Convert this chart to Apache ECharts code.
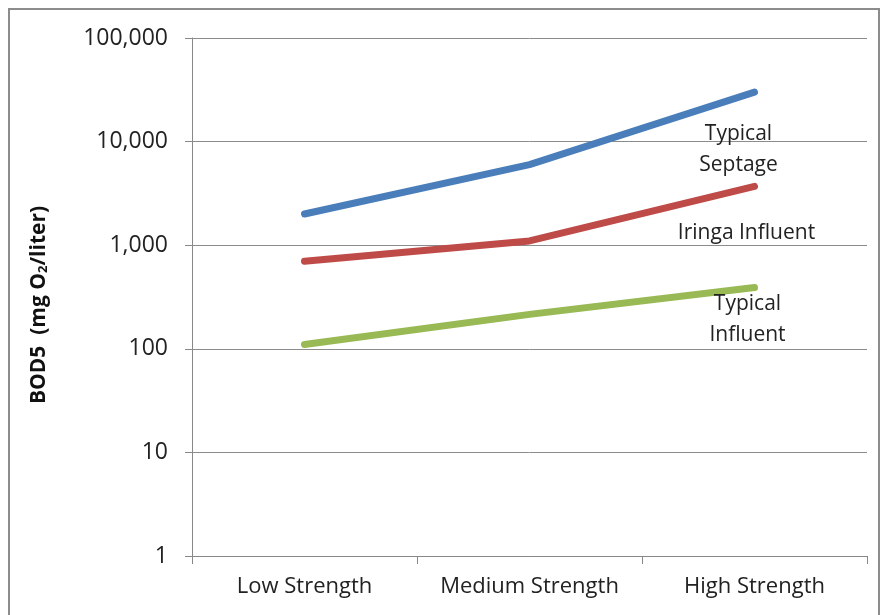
<!DOCTYPE html>
<html>
<head>
<meta charset="utf-8">
<script src="https://cdn.jsdelivr.net/npm/echarts@6/dist/echarts.min.js"></script>
<style>
  html, body { margin: 0; padding: 0; background: #fff; }
  #chart { width: 884px; height: 615px; }
</style>
</head>
<body>
<div id="chart"></div>
<script>
var strengths = ['Low Strength', 'Medium Strength', 'High Strength'];
var septage = [2000, 6000, 30000];
var iringa = [700, 1100, 3700];
var influent = [110, 215, 390];
var seriesNames = ['Typical\nSeptage', 'Iringa Influent', 'Typical\nInfluent'];

var chart = echarts.init(document.getElementById('chart'));

var font = '"Open Sans", Lato, sans-serif';

// put the series name under the last point, like the original's text boxes
function withEndLabel(values, text, dy, dx) {
    return values.map(function(v, i) {
        if (i < values.length - 1) return v;
        return {
            value: v,
            label: {
                show: true,
                position: [dx, dy],
                align: 'center',
                verticalAlign: 'top',
                formatter: text,
                fontFamily: font,
                fontSize: 21,
                lineHeight: 31,
                color: '#222'
            }
        };
    });
}

function lineSeries(name, values, color, dy, dx) {
    return {
        name: name,
        type: 'line',
        data: withEndLabel(values, name, dy, dx),
        showSymbol: true,
        symbol: 'circle',
        symbolSize: 0,
        lineStyle: { color: color, width: 7, cap: 'round', join: 'round' },
        itemStyle: { color: color },
        labelLayout: { hideOverlap: false },
        z: 3
    };
}

var option = {
    animation: false,
    backgroundColor: '#fff',
    graphic: [{
        type: 'rect',
        shape: { x: 9, y: 9, width: 870, height: 620 },
        style: { fill: 'none', stroke: '#8c8c8c', lineWidth: 2 },
        silent: true
    }],
    grid: { left: 192, right: 17, top: 38, bottom: 59 },
    xAxis: {
        type: 'category',
        data: strengths,
        boundaryGap: true,
        axisLine: { lineStyle: { color: '#888', width: 1 } },
        axisTick: { show: true, length: 8, lineStyle: { color: '#888' } },
        axisLabel: { fontFamily: font, fontSize: 22, color: '#222', margin: 20, interval: 0, hideOverlap: false }
    },
    yAxis: {
        type: 'log',
        logBase: 10,
        min: 1,
        max: 100000,
        name: '{n|BOD5  (mg O}{s|2}{n|/liter)}',
        nameLocation: 'middle',
        nameGap: 142,
        nameTextStyle: {
            padding: [0, 16, 0, 0],
            rich: {
                n: { fontFamily: font, fontSize: 21, fontWeight: 'bold', color: '#111' },
                s: { fontFamily: font, fontSize: 13, fontWeight: 'bold', color: '#111', verticalAlign: 'bottom', padding: [9, 0, 0, 0] }
            }
        },
        axisLine: { show: true, lineStyle: { color: '#888', width: 1 } },
        axisTick: { show: true, length: 7, lineStyle: { color: '#888' } },
        axisLabel: {
            fontFamily: font,
            fontSize: 23,
            color: '#222',
            margin: 24,
            formatter: function(v) {
                return Math.round(v).toString().replace(/\B(?=(\d{3})+(?!\d))/g, ',');
            }
        },
        splitLine: { show: true, lineStyle: { color: '#8c8c8c', width: 1 } },
        minorTick: { show: false }
    },
    series: [
        lineSeries(seriesNames[0], septage, '#4a7ebb', 26, -16),
        lineSeries(seriesNames[1], iringa, '#be4b48', 31, -8),
        lineSeries(seriesNames[2], influent, '#98b954', 1, -7)
    ]
};

chart.setOption(option);
</script>
</body>
</html>
